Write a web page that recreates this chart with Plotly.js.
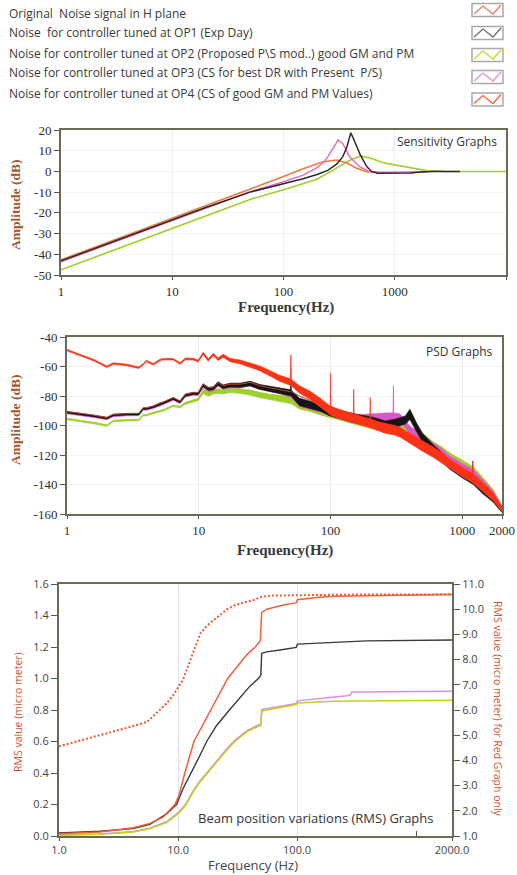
<!DOCTYPE html>
<html><head><meta charset="utf-8">
<script src="https://cdn.plot.ly/plotly-3.0.1.min.js"></script>
<style>html,body{margin:0;padding:0;background:#fff;}#chart{width:517px;height:875px;}</style>
</head><body><div id="chart"></div>
<script>
// ---------------- Legend ----------------
const legendLabels = [
  'Original  Noise signal in H plane',
  'Noise  for controller tuned at OP1 (Exp Day)',
  'Noise for controller tuned at OP2 (Proposed P\\S mod..) good GM and PM',
  'Noise for controller tuned at OP3 (CS for best DR with Present  P/S)',
  'Noise for controller tuned at OP4 (CS of good GM and PM Values)'
];
const legendColors = ['#f07a6a', '#6e6e6e', '#b4e02a', '#e38de0', '#f0643a'];

// ---------------- Sensitivity graph ----------------
const sensXTicks = [1, 10, 100, 1000, 10000];
const sensXText = ['1', '10', '100', '1000', '10000'];
const sensYTicks = [20, 10, 0, -10, -20, -30, -40, -50];
const sensYText = ['20', '10', '0', '-10', '-20', '-30', '-40', '-50'];

const sensFreqOP1 = [1, 2, 5, 10, 20, 50, 100, 150, 200, 250, 300, 340, 370, 403, 440, 490, 560, 620, 700, 1000, 1400, 1700, 2300, 3850];
const sensOP1 = [-43.2, -37.2, -29.3, -23.3, -17.4, -10, -6, -3.5, -1.5, 0.5, 3.5, 7, 11.5, 18.7, 14, 8, 2.3, 0, -0.9, -0.9, -0.8, -0.3, 0, 0];
const sensFreqOP2 = [1, 2, 5, 10, 20, 50, 100, 150, 200, 300, 400, 492, 600, 787, 1000, 1187, 1500, 1932, 3000, 10000];
const sensOP2 = [-47.5, -41.5, -33.5, -27.4, -21.4, -13.5, -8.8, -6, -3.8, 1.6, 5.5, 7.4, 6.5, 4.2, 3.2, 2.3, 1.4, 0.4, 0, 0];
const sensFreqOP3 = [1, 2, 5, 10, 20, 50, 100, 150, 200, 227, 250, 280, 310, 340, 393, 483, 594, 800, 1200, 1932];
const sensOP3 = [-43.6, -37.6, -29.7, -23.7, -17.6, -9.8, -5, -1.8, 1.8, 4.2, 7, 11.5, 15.2, 13.5, 7.1, 2.3, -0.1, -0.4, -0.4, -0.1];
const sensFreqOP4 = [1, 2, 5, 10, 20, 50, 100, 150, 200, 227, 300, 369, 453, 557, 700];
const sensOP4 = [-42.7, -36.7, -28.8, -22.6, -16.6, -8.8, -2.5, 1.3, 3.8, 4.7, 5.5, 4.2, 1.5, -0.1, -0.4];

// ---------------- PSD graph ----------------
const psdXTicks = [1, 10, 100, 1000, 2000];
const psdXText = ['1', '10', '100', '1000', '2000'];
const psdYTicks = [-40, -60, -80, -100, -120, -140, -160];
const psdYText = ['-40', '-60', '-80', '-100', '-120', '-140', '-160'];

const psdFreq = [1, 1.25, 1.6, 2, 2.25, 2.85, 3.5, 3.8, 4, 4.5,
  5.1, 5.4, 6.4, 7.2, 7.9, 9.1, 9.9, 10.8, 11.8, 12.9,
  14, 15.3, 17.3, 20.5, 24.5, 29, 34.7, 41.4, 49.5, 50,
  50.5, 58, 70, 85, 99.5, 100, 100.5, 114, 130, 149,
  150, 151, 175, 199, 200, 201, 230, 260, 298, 300,
  302, 336, 370, 400, 450, 500, 600, 700, 800, 1000,
  1190, 1200, 1210, 1440, 1717, 2000];

// upper / lower edges of each noisy PSD band (dB)
const psdOrigHi = [-48.4, -51.7, -55.2, -59.7, -57.5, -58.5, -60.3, -58, -55.8, -58,
  -55, -54.5, -54.6, -57.5, -54.3, -54.4, -55.7, -50.4, -54.8, -51,
  -54.2, -51.7, -54.5, -55.6, -57.6, -59.6, -62.8, -66.1, -68.3, -52,
  -68.8, -73, -76.8, -82, -87, -64.6, -87, -89, -90.5, -92,
  -75.5, -92, -94, -95.5, -81, -95.5, -97.5, -98.8, -99.8, -99.8,
  -99.8, -101.2, -103.7, -105.2, -108, -110.5, -114.5, -118.5, -122.8, -128.3,
  -132.3, -124, -132.8, -139, -145.8, -155.5];
const psdOrigLo = [-49.4, -52.7, -56.2, -60.7, -58.5, -59.5, -61.3, -59, -56.8, -59,
  -56, -55.5, -55.6, -58.5, -55.5, -55.6, -56.9, -51.8, -56.4, -52.6,
  -56, -53.7, -56.7, -58.2, -60.6, -62.8, -66.4, -70.1, -72.7, -72.7,
  -73.2, -78, -82.2, -88, -93, -93, -93, -95, -96.5, -98,
  -98, -98, -100, -101.5, -101.5, -101.5, -103.5, -105.2, -106.2, -106.2,
  -106.2, -107.8, -110.3, -111.8, -115, -117.5, -121.5, -125.5, -129.2, -134.7,
  -138.7, -138.7, -139.2, -145, -151, -158.5];

const psdOP1Hi = [-90.5, -91.5, -93, -94.5, -92.4, -91.8, -91.8, -87.9, -88.1, -86.9,
  -84.5, -84, -81.1, -83.4, -78.7, -77.5, -77.6, -71.7, -74.1, -73.8,
  -70.3, -72.5, -71.3, -71.3, -70, -72.2, -73.5, -74.8, -75.8, -72,
  -76.2, -81.5, -83.5, -85.5, -87.5, -87.5, -87.5, -89, -90.7, -92,
  -92, -92, -93.2, -94, -94, -94, -95.5, -97, -96, -96,
  -96, -94.8, -93.5, -89, -98.5, -105.5, -113, -118.5, -123.5, -129.5,
  -133.5, -133.5, -134, -140.5, -147, -155.5];
const psdOP1Lo = [-91.5, -92.5, -94, -95.5, -93.4, -92.8, -92.8, -88.9, -89.1, -87.9,
  -85.7, -85.2, -82.3, -84.6, -80.1, -78.9, -79, -73.5, -76.1, -75.8,
  -72.7, -74.9, -73.9, -74.1, -73, -75.4, -76.9, -78.6, -79.8, -79.8,
  -80.2, -86.5, -88.5, -90.5, -93.5, -93.5, -93.5, -95, -96.7, -98,
  -98, -98, -99.2, -100, -100, -100, -101.5, -103, -102, -102,
  -102, -100.2, -99, -96, -104.5, -111.5, -119, -124.5, -129.5, -135.5,
  -139.5, -139.5, -140, -146.5, -152, -159];

const psdOP2Hi = [-95.1, -96.3, -97.8, -99.5, -96.4, -95.9, -95.7, -92.4, -92.6, -91,
  -89.7, -89.1, -86.2, -86.9, -84.3, -82.8, -81.6, -75.5, -77.1, -75.6,
  -75.1, -75.6, -74.6, -75, -76, -77.5, -78.8, -79.5, -80.5, -80.5,
  -80.5, -83.2, -84.5, -87, -88.5, -88.5, -88.5, -90, -91.5, -93,
  -93, -93, -94.5, -96, -96, -96, -97, -98, -99, -99,
  -99, -100, -101.2, -102, -103, -105, -111, -114.5, -118.5, -123.5,
  -127.5, -127.5, -128, -135.5, -143.5, -154.5];
const psdOP2Lo = [-96.1, -97.3, -98.8, -100.5, -97.4, -96.9, -96.7, -93.4, -93.6, -92,
  -90.7, -90.1, -87.2, -87.9, -85.7, -84.2, -83, -78.5, -80.1, -78.6,
  -78.1, -78.6, -77.6, -78.2, -79.4, -81.1, -82.6, -83.7, -85.3, -85.3,
  -85.3, -88.8, -90.5, -93, -94.5, -94.5, -94.5, -96, -97.5, -99,
  -99, -99, -100.5, -102, -102, -102, -103, -104, -105, -105,
  -105, -106, -107.8, -109, -110, -112, -116, -119.5, -123.5, -129,
  -133, -133, -133.5, -140.5, -148.5, -158];

const psdOP3Hi = [-91.1, -92.1, -93.6, -95.1, -93, -92.4, -92.4, -88.5, -88.7, -87.5,
  -85.2, -84.7, -81.8, -84.1, -79.3, -78.1, -78.2, -72, -74.5, -74.2,
  -70.9, -73.1, -72, -72.1, -70.9, -73.2, -74.6, -76.1, -76, -76,
  -76, -82.1, -84.1, -86.1, -88.5, -88.5, -88.5, -90, -91.2, -92.5,
  -92.5, -92.5, -92.5, -92.2, -92.2, -92.2, -91.5, -91.5, -91.5, -73,
  -91.5, -92.2, -96.5, -100.5, -103.5, -106.5, -112, -116, -120.5, -126,
  -129.5, -124, -130, -137.5, -144.5, -155];
const psdOP3Lo = [-92.1, -93.1, -94.6, -96.1, -94, -93.4, -93.4, -89.5, -89.7, -88.5,
  -86.2, -85.7, -82.8, -85.1, -80.7, -79.5, -79.6, -74.4, -76.9, -76.6,
  -73.3, -75.5, -74.4, -74.5, -73.3, -75.6, -77, -78.5, -80.8, -80.8,
  -80.8, -87.1, -89.1, -91.1, -93.5, -93.5, -93.5, -95, -96.2, -97.5,
  -97.5, -97.5, -98.5, -97.8, -97.8, -97.8, -97.5, -97.5, -97, -97,
  -97, -97.8, -101.5, -105.5, -108.5, -111.5, -117, -121, -125.5, -131,
  -134.5, -134.5, -135, -142.5, -149.5, -158];

const psdOP4 = [-90.5, -91.5, -93, -94.5, -92.4, -91.8, -91.8, -87.9, -88, -86.8,
  -84.5, -84, -81.1, -83.4, -78.9, -77.7, -77.7, -72, -74.5, -74.3,
  -70.8, -73.1, -72, -72, -70.8, -73, -74.5, -76, -77, -77,
  -77, -80, -83, -87, -90.5, -90.5, -90.5, -92.5, -94, -95.5,
  -95.5, -95.5, -97.5, -99, -99, -99, -101, -102.5, -103.5, -103.5,
  -103.5, -104.5, -107.5, -109, -112, -114.5, -118.5, -122.5, -126.5, -132,
  -135.5, -135.5, -136, -142.5, -149, -157];

// ---------------- RMS graph ----------------
const rmsXTicks = [1, 10, 100, 2000];
const rmsXText = ['1.0', '10.0', '100.0', '2000.0'];
const rmsYTicks = [0, 0.2, 0.4, 0.6, 0.8, 1.0, 1.2, 1.4, 1.6];
const rmsYText = ['0.0', '0.2', '0.4', '0.6', '0.8', '1.0', '1.2', '1.4', '1.6'];
const rmsY2Ticks = [1, 2, 3, 4, 5, 6, 7, 8, 9, 10, 11];
const rmsY2Text = ['1.0', '2.0', '3.0', '4.0', '5.0', '6.0', '7.0', '8.0', '9.0', '10.0', '11.0'];

const rmsFreqOrig = [1, 1.5, 2.2, 3, 3.5, 4.8, 5.5, 6.5, 8, 9, 10, 11, 11.8, 13.4, 15.4, 17.5, 19.9, 22.7, 25.9, 29.5, 33.4, 38, 43, 50.7, 60, 100, 300, 2000];
const rmsOrig = [4.56, 4.78, 5.0, 5.15, 5.26, 5.44, 5.53, 5.85, 6.26, 6.55, 6.9, 7.2, 7.58, 8.3, 9.04, 9.35, 9.57, 9.8, 10.0, 10.15, 10.23, 10.3, 10.36, 10.5, 10.54, 10.56, 10.58, 10.59];
const rmsFreqOP1 = [1, 2.2, 4.2, 5.8, 8, 9.7, 11, 12.9, 15, 17.4, 21, 27, 33, 40, 47.3, 49.6, 50.4, 55.6, 76.7, 98.1, 100.6, 202, 385, 2000];
const rmsOP1 = [0.02, 0.03, 0.047, 0.074, 0.14, 0.2, 0.3, 0.4, 0.5, 0.6, 0.7, 0.8, 0.88, 0.95, 1.0, 1.02, 1.16, 1.169, 1.184, 1.197, 1.218, 1.227, 1.239, 1.244];
const rmsFreqOP2 = [1, 2.2, 4.2, 5.8, 8, 10.2, 11.7, 13.4, 15.3, 17.6, 21.1, 25.6, 30, 37.7, 45.8, 49.6, 50.4, 76.7, 98.1, 100.6, 202, 2000];
const rmsOP2 = [0.004, 0.011, 0.025, 0.047, 0.085, 0.146, 0.2, 0.28, 0.343, 0.4, 0.47, 0.545, 0.6, 0.661, 0.693, 0.703, 0.794, 0.82, 0.835, 0.845, 0.856, 0.862];
const rmsFreqOP3 = [1, 2.2, 4.2, 5.8, 8, 10.2, 11.7, 13.4, 15.3, 17.6, 21.1, 25.6, 30, 37.7, 45.8, 49.6, 50.4, 76.7, 98.1, 100.6, 202, 262, 280, 288, 2000];
const rmsOP3 = [0.006, 0.013, 0.028, 0.05, 0.09, 0.152, 0.206, 0.286, 0.35, 0.407, 0.477, 0.552, 0.607, 0.668, 0.70, 0.71, 0.803, 0.824, 0.841, 0.858, 0.879, 0.89, 0.895, 0.915, 0.919];
const rmsFreqOP4 = [1, 2.2, 4.2, 5.8, 7.5, 9.4, 10.2, 11.4, 13.6, 16, 19.1, 22.5, 26.1, 31, 37.7, 44.4, 49.1, 50.4, 55.6, 76.7, 98.1, 100.6, 145, 202, 2000];
const rmsOP4 = [0.015, 0.025, 0.053, 0.08, 0.12, 0.2, 0.26, 0.4, 0.6, 0.7, 0.8, 0.9, 1.0, 1.07, 1.15, 1.2, 1.24, 1.42, 1.44, 1.466, 1.48, 1.5, 1.515, 1.523, 1.534];

// ---------------- helpers (page geometry) ----------------
const W = 517, H = 875;
const px = v => v / W;
const py = v => 1 - v / H;
const SERIF = 'Liberation Serif, Times New Roman, serif';
const SANS = 'Open Sans, Noto Sans, sans-serif';
const FRAME = '#6b6b55';

const traces = [];
// Sensitivity
traces.push({x: sensFreqOP2, y: sensOP2, xaxis: 'x', yaxis: 'y', mode: 'lines', line: {color: '#9fcf2a', width: 1.6}});
traces.push({x: sensFreqOP4, y: sensOP4, xaxis: 'x', yaxis: 'y', mode: 'lines', line: {color: '#f27a3c', width: 1.6}});
traces.push({x: sensFreqOP3, y: sensOP3, xaxis: 'x', yaxis: 'y', mode: 'lines', line: {color: '#e66cc8', width: 1.5}});
traces.push({x: sensFreqOP1, y: sensOP1, xaxis: 'x', yaxis: 'y', mode: 'lines', line: {color: '#2a2a2a', width: 1.5}});

// PSD bands
function band(lo, hi, color) {
  traces.push({x: psdFreq, y: lo, xaxis: 'x2', yaxis: 'y2', mode: 'lines', line: {color: color, width: 0.7}});
  traces.push({x: psdFreq, y: hi, xaxis: 'x2', yaxis: 'y2', mode: 'lines', line: {color: color, width: 0.7}, fill: 'tonexty', fillcolor: color});
}
band(psdOP2Lo, psdOP2Hi, '#9fcf2a');
band(psdOP3Lo, psdOP3Hi, '#d858c8');
band(psdOP1Lo, psdOP1Hi, '#151515');
traces.push({x: psdFreq, y: psdOP4, xaxis: 'x2', yaxis: 'y2', mode: 'lines', line: {color: '#b8442a', width: 1}});
band(psdOrigLo, psdOrigHi, '#fa3318');

// RMS
traces.push({x: rmsFreqOP3, y: rmsOP3, xaxis: 'x3', yaxis: 'y3', mode: 'lines', line: {color: '#e28ae2', width: 1.5}});
traces.push({x: rmsFreqOP2, y: rmsOP2, xaxis: 'x3', yaxis: 'y3', mode: 'lines', line: {color: '#bfd21c', width: 1.5}});
traces.push({x: rmsFreqOP1, y: rmsOP1, xaxis: 'x3', yaxis: 'y3', mode: 'lines', line: {color: '#3a3a3a', width: 1.4}});
traces.push({x: rmsFreqOP4, y: rmsOP4, xaxis: 'x3', yaxis: 'y3', mode: 'lines', line: {color: '#f0603a', width: 1.5}});
traces.push({x: rmsFreqOrig, y: rmsOrig, xaxis: 'x3', yaxis: 'y4', mode: 'lines', line: {color: '#f2562a', width: 2, dash: '2px,2px'}});

const serifTick = {family: SERIF, size: 13, color: '#2e2e2e'};
const sansTick = {family: SANS, size: 11, color: '#444'};

function frameAxis(extra) {
  return Object.assign({showline: true, linecolor: FRAME, linewidth: 2, mirror: true, zeroline: false,
    ticks: 'outside', ticklen: 5, tickcolor: '#555', tickwidth: 1, tickmode: 'array'}, extra);
}

const layout = {
  width: W, height: H, margin: {l: 0, r: 0, t: 0, b: 0},
  paper_bgcolor: '#ffffff', plot_bgcolor: '#ffffff', showlegend: false,
  xaxis: frameAxis({type: 'log', domain: [px(61), px(506)], range: [0, 4], anchor: 'y',
    tickvals: sensXTicks, ticktext: sensXText, tickfont: serifTick, ticklen: 3,
    showgrid: true, gridcolor: '#eeeeee'}),
  yaxis: frameAxis({domain: [py(275), py(130)], range: [-50, 20], anchor: 'x',
    tickvals: sensYTicks, ticktext: sensYText, tickfont: serifTick, showgrid: true, gridcolor: '#f3f3f3'}),
  xaxis2: frameAxis({type: 'log', domain: [px(67), px(502)], range: [0, Math.log10(2000)], anchor: 'y2',
    tickvals: psdXTicks, ticktext: psdXText, tickfont: serifTick, ticklen: 3,
    showgrid: true, gridcolor: '#eaeaea'}),
  yaxis2: frameAxis({domain: [py(514), py(337)], range: [-160, -40], anchor: 'x2',
    tickvals: psdYTicks, ticktext: psdYText, tickfont: serifTick, showgrid: true, gridcolor: '#f3f3f3'}),
  xaxis3: frameAxis({type: 'log', domain: [px(59), px(452)], range: [0, Math.log10(2000)], anchor: 'y3',
    tickvals: rmsXTicks, ticktext: rmsXText, tickfont: sansTick, ticklen: 3,
    showgrid: true, gridcolor: '#e4e4e4',
    minor: {tickvals: [1000], ticks: 'inside', ticklen: 5, tickcolor: '#555', showgrid: false}}),
  yaxis3: frameAxis({domain: [py(836), py(584)], range: [0, 1.6], anchor: 'x3',
    tickvals: rmsYTicks, ticktext: rmsYText, tickfont: sansTick, ticklen: 6, showgrid: false, mirror: false}),
  yaxis4: frameAxis({overlaying: 'y3', side: 'right', range: [1, 11], anchor: 'x3',
    tickvals: rmsY2Ticks, ticktext: rmsY2Text, tickfont: sansTick, ticklen: 6, showgrid: false, mirror: false}),
  annotations: [], shapes: []
};

// Legend (text left, zigzag swatches right)
const legTextY = [13, 33, 53, 73, 93];
const legBoxY = [10, 33, 55, 77, 99.5];
legendLabels.forEach((t, i) => {
  layout.annotations.push({text: t, xref: 'paper', yref: 'paper', x: px(7), y: py(legTextY[i]),
    xanchor: 'left', yanchor: 'middle', showarrow: false, font: {family: SANS, size: 12, color: '#3a3a3a'}});
  const x0 = 472, x1 = 503, yc = legBoxY[i], h = 6.5;
  layout.shapes.push({type: 'rect', xref: 'paper', yref: 'paper', x0: px(x0), x1: px(x1), y0: py(yc + h), y1: py(yc - h),
    line: {color: '#a9a9a9', width: 1.5}});
  const pts = [[x0 + 2, yc + 4], [x0 + 11, yc - 4], [x0 + 21, yc + 4], [x1 - 2, yc - 5]];
  layout.shapes.push({type: 'path', xref: 'paper', yref: 'paper',
    path: 'M' + pts.map(p => px(p[0]) + ',' + py(p[1])).join(' L'),
    line: {color: legendColors[i], width: 1.3}});
});

function ann(text, x, y, font, extra) {
  layout.annotations.push(Object.assign({text: text, xref: 'paper', yref: 'paper', x: px(x), y: py(y),
    showarrow: false, xanchor: 'center', yanchor: 'middle', font: font}, extra || {}));
}
const serifTitle = {family: SERIF, size: 15, color: '#3a3a3a', weight: 'bold'};
const ampTitle = {family: SERIF, size: 13.5, color: '#a5552d', weight: 'bold'};
const boxLabel = {family: SANS, size: 12, color: '#333'};

ann('Sensitivity Graphs', 499, 141, boxLabel, {xanchor: 'right'});
ann('Frequency(Hz)', 286, 307, serifTitle);
ann('Amplitude (dB)', 15, 205, ampTitle, {textangle: -90});

ann('PSD Graphs', 495, 351, boxLabel, {xanchor: 'right'});
ann('Frequency(Hz)', 285, 550, serifTitle);
ann('Amplitude (dB)', 15, 420, ampTitle, {textangle: -90});

ann('Beam position variations (RMS) Graphs', 196, 818, {family: SANS, size: 13, color: '#333'}, {xanchor: 'left'});
ann('Frequency (Hz)', 253, 865, {family: SANS, size: 13, color: '#444'});
ann('RMS value (micro meter)', 18, 712, {family: SANS, size: 10.5, color: '#d4532e'}, {textangle: -90});
ann('RMS value (micro meter) for Red Graph only', 498, 709, {family: SANS, size: 10.5, color: '#d4532e'}, {textangle: 90});

Plotly.newPlot('chart', traces, layout, {displayModeBar: false, staticPlot: true});
</script>
</body></html>
